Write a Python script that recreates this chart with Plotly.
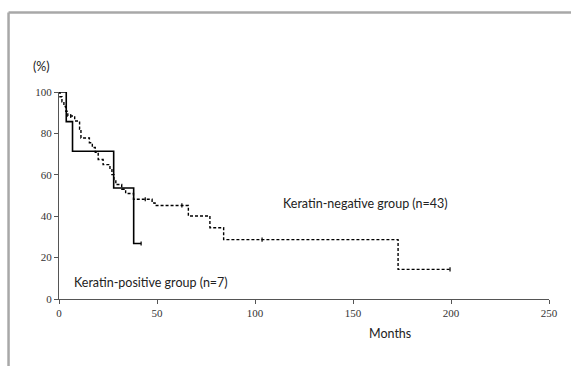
import plotly.graph_objects as go

# Keratin-positive group (n=7): step times (months) and survival (%)
pos_time = [0, 3.7, 6.9, 27.9, 38.1, 41.9]
pos_surv = [100, 85.7, 71.4, 53.6, 26.8, 26.8]
pos_cens_time = [41.9]
pos_cens_surv = [26.8]

# Keratin-negative group (n=43)
neg_time = [0, 0.5, 1.5, 2.5, 3.5, 4.5, 8, 10.5, 11.2, 15.5, 17, 18.5, 20, 22.5,
            26, 27, 28, 29, 32, 34, 38, 47.5, 49, 66, 77, 84, 173, 199.5]
neg_surv = [100, 97.7, 95.3, 93.0, 90.7, 88.4, 86.0, 82.0, 77.8, 75.5, 73.2, 70.9, 67.4, 64.9,
            62.5, 60.1, 57.7, 55.3, 53.0, 51.0, 48.2, 46.4, 45.2, 40.1, 34.4, 28.7, 14.3, 14.3]
neg_cens_time = [6, 44, 62.7, 103.6, 199.5]
neg_cens_surv = [88.4, 48.2, 45.2, 28.7, 14.3]

x_ticks = [0, 50, 100, 150, 200, 250]
y_ticks = [0, 20, 40, 60, 80, 100]

W, H = 571, 366
L, R, T, B = 59.4, 548.8, 91.7, 299.0

fig = go.Figure()
fig.add_trace(go.Scatter(x=neg_time, y=neg_surv, mode="lines", line_shape="hv",
                         line=dict(color="black", width=1.4, dash="3px,2px"),
                         showlegend=False, hoverinfo="skip"))
fig.add_trace(go.Scatter(x=neg_cens_time, y=neg_cens_surv, mode="markers",
                         marker=dict(symbol="line-ns-open", size=3, color="black",
                                     line=dict(width=1.2, color="black")),
                         showlegend=False, hoverinfo="skip"))
fig.add_trace(go.Scatter(x=pos_time, y=pos_surv, mode="lines", line_shape="hv",
                         line=dict(color="black", width=1.6),
                         showlegend=False, hoverinfo="skip"))
fig.add_trace(go.Scatter(x=pos_cens_time, y=pos_cens_surv, mode="markers",
                         marker=dict(symbol="line-ns-open", size=3, color="black",
                                     line=dict(width=1.2, color="black")),
                         showlegend=False, hoverinfo="skip"))

def px2paper_x(px):
    return (px - L) / (R - L)

def px2paper_y(py):
    return (B - py) / (B - T)

text_font = dict(family="Lato, Noto Sans, sans-serif", size=12.5, color="#222")
ann = [
    dict(text="(%)", x=px2paper_x(42), y=px2paper_y(66)),
    dict(text="Months", x=px2paper_x(390), y=px2paper_y(334)),
    dict(text="Keratin-negative group (n=43)", x=px2paper_x(366), y=px2paper_y(203)),
    dict(text="Keratin-positive group (n=7)", x=px2paper_x(151), y=px2paper_y(282)),
]
annotations = [dict(xref="paper", yref="paper", showarrow=False, font=text_font,
                    xanchor="center", yanchor="middle", **a) for a in ann]

border = dict(color="#a8a8a8", width=2.5)
shapes = [
    dict(type="line", xref="paper", yref="paper", x0=px2paper_x(9), x1=px2paper_x(575),
         y0=px2paper_y(12), y1=px2paper_y(12), line=border),
    dict(type="line", xref="paper", yref="paper", x0=px2paper_x(9), x1=px2paper_x(9),
         y0=px2paper_y(12), y1=px2paper_y(370), line=border),
]

tick_font = dict(family="Liberation Serif, serif", size=11, color="#333")
fig.update_layout(
    width=W, height=H,
    margin=dict(l=L, r=W - R, t=T, b=H - B),
    paper_bgcolor="white", plot_bgcolor="white",
    annotations=annotations, shapes=shapes,
    xaxis=dict(range=[0, 250], tickvals=x_ticks, showgrid=False, zeroline=False,
               showline=True, linecolor="#555", linewidth=1, ticks="outside",
               ticklen=4, tickcolor="#555", tickfont=tick_font),
    yaxis=dict(range=[0, 100], tickvals=y_ticks, showgrid=False, zeroline=False,
               showline=True, linecolor="#555", linewidth=1, ticks="outside",
               ticklen=4, tickcolor="#555", tickfont=tick_font),
)
fig.write_html("out.html", config={"displayModeBar": False},
               post_script="document.body.style.margin='0';document.body.style.overflow='hidden';")
